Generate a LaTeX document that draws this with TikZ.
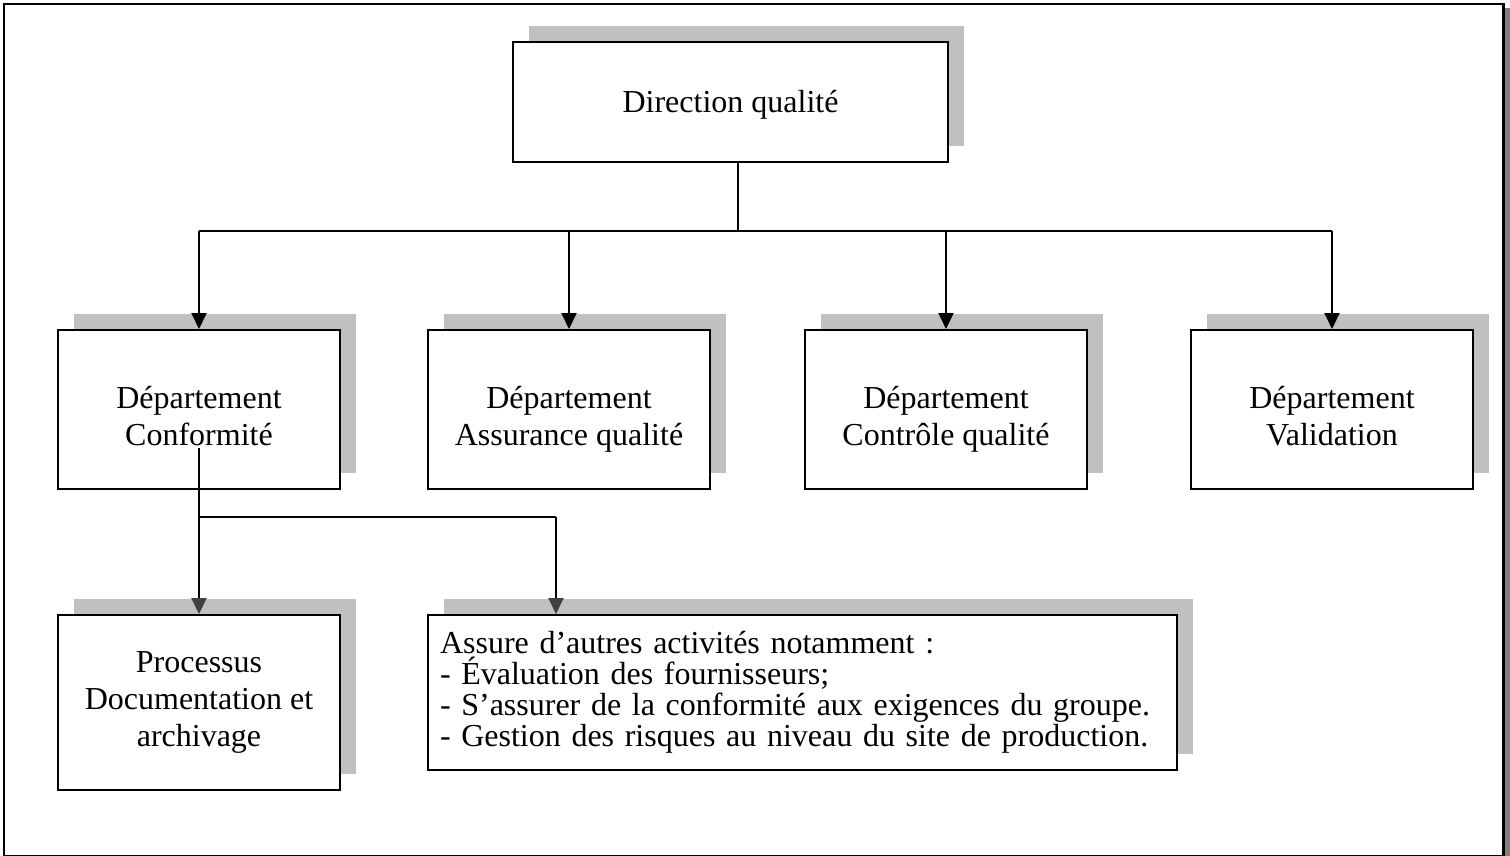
\documentclass[tikz,border=0pt]{standalone}
\usepackage{fontspec}
\setmainfont{Liberation Serif}
\usetikzlibrary{arrows.meta,shadows}
\definecolor{shade}{HTML}{C0C0C0}
\definecolor{tipgray}{HTML}{404040}
\definecolor{framegray}{HTML}{808080}

\begin{document}
\begin{tikzpicture}[x=1pt,y=-1pt,
  box/.style={draw=black, line width=2pt, fill=white, inner sep=0pt,
    copy shadow={shadow xshift=16pt, shadow yshift=16pt, fill=shade, draw=none}},
  lbl/.style={inner sep=0pt, align=center, font=\fontsize{32}{37}\selectfont},
  link/.style={draw=black, line width=2pt},
  tipdark/.style={-{Triangle[length=16pt,width=15pt]}},
  tipgrey/.style={-{Triangle[length=16pt,width=15pt,color=tipgray]}},
]
\useasboundingbox (0,0) rectangle (1510,856);

% page frame with its shadow strip on the right
\fill[framegray] (1505,8) rectangle (1510,856);
\draw[line width=2.5pt] (4,870) -- (4,4) -- (1503.5,4) -- (1503.5,870);
\draw[shade, line width=1.5pt] (4,855.5) -- (1503.5,855.5);

% boxes
\node[box, minimum width=435pt, minimum height=120pt] (top) at (730.5,102) {};
\node[box, minimum width=282pt, minimum height=159pt] (d1) at (199,409.5) {};
\node[box, minimum width=282pt, minimum height=159pt] (d2) at (569,409.5) {};
\node[box, minimum width=282pt, minimum height=159pt] (d3) at (946,409.5) {};
\node[box, minimum width=282pt, minimum height=159pt] (d4) at (1332,409.5) {};
\node[box, minimum width=282pt, minimum height=175pt] (p) at (199,702.5) {};
\node[box, minimum width=749pt, minimum height=155pt] (a) at (802.5,692.5) {};

% box texts
\node[lbl] (topt) at ([yshift=-3pt]top.center) {\strut Direction qualité};
\node[lbl] (d1t) at ([yshift=-10pt]d1.center) {\strut Département\\\strut Conformité};
\node[lbl] (d2t) at ([yshift=-10pt]d2.center) {\strut Département\\\strut Assurance qualité};
\node[lbl] (d3t) at ([yshift=-10pt]d3.center) {\strut Département\\\strut Contrôle qualité};
\node[lbl] (d4t) at ([yshift=-10pt]d4.center) {\strut Département\\\strut Validation};
\node[lbl] (pt) at (p.center) {\strut Processus\\\strut Documentation et\\\strut archivage};
\node[lbl, text width=725pt, align=left, font=\fontsize{32}{31}\selectfont] (at) at (a.center)
  {Assure d’autres activités notamment :\\
   - Évaluation des fournisseurs;\\
   - S’assurer de la conformité aux exigences du groupe.\\
   - Gestion des risques au niveau du site de production.};

% connectors from the direction to the departments
\coordinate (bus) at (738,231);
\draw[link] (top.south -| bus) -- (bus);
\draw[link] (d1.north |- bus) -- (d4.north |- bus);
\foreach \n in {d1,d2,d3,d4}
  \draw[link,tipdark] (\n.north |- bus) -- (\n.north);

% connectors below the compliance department
\coordinate (c1) at (199,448);
\coordinate (fork) at (199,517);
\coordinate (ax) at (556,517);
\draw[link] (c1) -- (fork) -- (ax);
\draw[link,tipgrey] (fork) -- (p.north);
\draw[link,tipgrey] (ax) -- (ax |- a.north);
\end{tikzpicture}
\end{document}
